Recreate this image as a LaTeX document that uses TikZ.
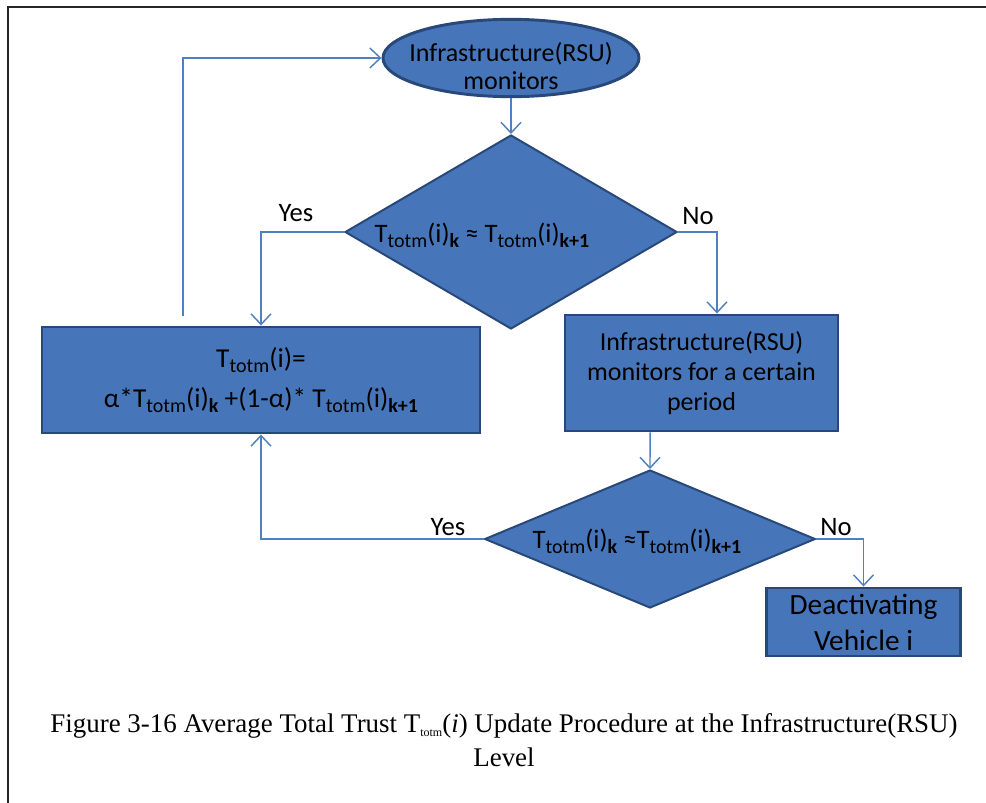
\documentclass[tikz,border=0pt]{standalone}
\usepackage{fontspec}
\setmainfont{Carlito}
\newfontfamily\capfont{Liberation Serif}
\usetikzlibrary{shapes.geometric,arrows.meta}
\definecolor{boxfill}{RGB}{70,118,185}
\definecolor{boxdraw}{RGB}{40,72,122}
\definecolor{linec}{RGB}{79,129,194}
\newcommand{\sbs}[1]{\raisebox{-0.4ex}{\fontsize{15}{15}\selectfont #1}}
\newcommand{\Tt}{T\sbs{totm}(i)}
\begin{document}
\begin{tikzpicture}[x=0.75pt,y=-0.75pt,
  blk/.style={fill=boxfill,draw=boxdraw,line width=2.2pt,text=black,inner sep=0pt,align=center,
    font=\fontsize{19.5}{22.5}\selectfont},
  rectbox/.style={blk,rectangle},
  ellbox/.style={blk,ellipse},
  decis/.style={blk,diamond,line width=1.5pt},
  txt/.style={inner sep=0pt,align=center,font=\fontsize{19.5}{21}\selectfont},
  conn/.style={draw=linec,line width=1.1pt,-{Straight Barb[length=8pt,width=15pt,line width=1.1pt]}},
  lbl/.style={font=\fontsize{20}{22}\selectfont,inner sep=0pt}]
\useasboundingbox (0,0) rectangle (986,803);
\draw[line width=1.3pt,black!85] (8,803) -- (8,7) -- (986,7);

\node[ellbox,minimum width=192pt,minimum height=58pt] (ell) at (511,58) {};
\node[txt] (elltxt) at (511,66) {Infrastructure(RSU)\\monitors};
\node[decis,aspect=1.7,minimum width=249pt,minimum height=145.5pt] (d1) at (511,232) {};
\node[txt,font=\fontsize{20}{22}\selectfont] (d1txt) at (482,235)
  {\Tt\sbs{\bfseries k} ≈ \Tt\sbs{\bfseries k+1}};
\node[rectbox,minimum width=328.5pt,minimum height=79.5pt,font=\fontsize{20.5}{30}\selectfont] (lbox) at (261,380)
  {\Tt=\\α*\Tt\sbs{\bfseries k} +(1-α)* \Tt\sbs{\bfseries k+1}};
\node[rectbox,minimum width=204.75pt,minimum height=87pt] (rbox) at (701.5,373)
  {Infrastructure(RSU)\\monitors for a certain\\period};
\node[decis,aspect=2.4,minimum width=248pt,minimum height=103.5pt] (d2) at (650,539) {};
\node[txt,font=\fontsize{20}{22}\selectfont] (d2txt) at (637,541)
  {\Tt\sbs{\bfseries k} ≈\Tt\sbs{\bfseries k+1}};
\node[rectbox,minimum width=146pt,minimum height=51pt,font=\fontsize{22}{27}\selectfont] (dv) at (863.5,622)
  {Deactivating\\Vehicle i};

\draw[conn] (ell.south) -- (d1.north);
\draw[conn] (d1.west) -| (lbox.north);
\draw[conn] (d1.east) -| ([xshift=11.6pt]rbox.north);
\draw[conn] ([xshift=-58.5pt,yshift=7pt]lbox.north) |- (ell.west);
\draw[conn] ([xshift=-38.6pt]rbox.south) -- (d2.north);
\draw[conn] (d2.west) -| (lbox.south);
\draw[conn] (d2.east) -| (dv.north);

\node[lbl] (y1) at (296,213) {Yes};
\node[lbl] (n1) at (698,216) {No};
\node[lbl] (y2) at (448,527) {Yes};
\node[lbl] (n2) at (836,527) {No};

\node[font=\capfont\fontsize{20.2}{25}\selectfont,align=center,inner sep=0pt] (cap) at (504,740)
  {Figure 3-16 Average Total Trust T\raisebox{-0.3ex}{\fontsize{9}{9}\selectfont totm}(\textit{i}) Update Procedure at the Infrastructure(RSU)\\Level};
\end{tikzpicture}
\end{document}
